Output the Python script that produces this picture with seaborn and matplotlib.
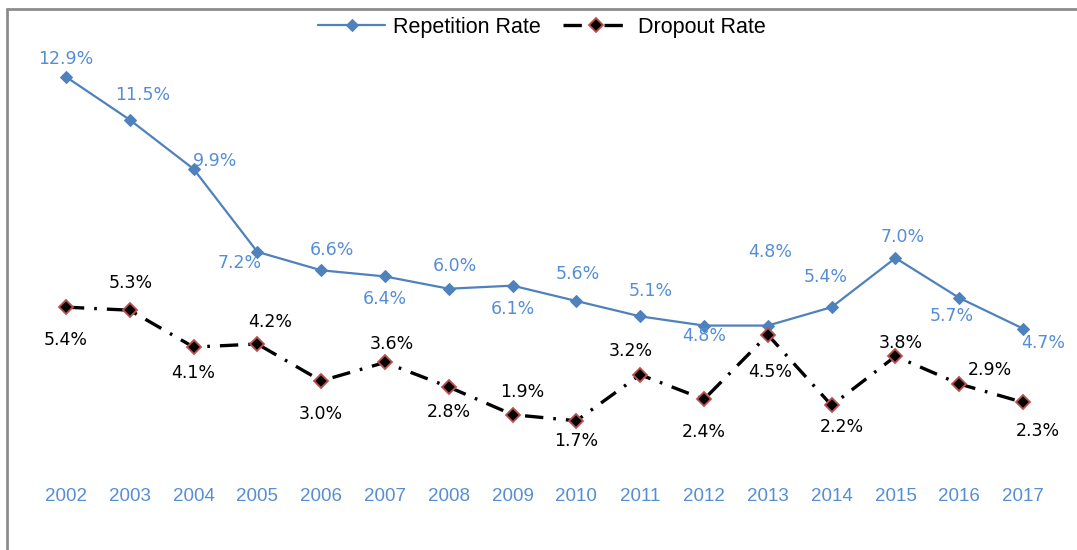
import numpy as np
import pandas as pd
import matplotlib.pyplot as plt
import seaborn as sns
from matplotlib.lines import Line2D

# Chart data
years = [2002, 2003, 2004, 2005, 2006, 2007, 2008, 2009,
         2010, 2011, 2012, 2013, 2014, 2015, 2016, 2017]
repetition_rate = [12.9, 11.5, 9.9, 7.2, 6.6, 6.4, 6.0, 6.1,
                   5.6, 5.1, 4.8, 4.8, 5.4, 7.0, 5.7, 4.7]
dropout_rate = [5.4, 5.3, 4.1, 4.2, 3.0, 3.6, 2.8, 1.9,
                1.7, 3.2, 2.4, 4.5, 2.2, 3.8, 2.9, 2.3]

# label offsets in pixels (dx, dy) relative to each point
rep_offsets = [(0, 18), (13, 25), (22, 8), (-18, -11), (11, 20), (0, -23), (6, 23), (0, -23),
               (1, 27), (11, 25), (0, -10), (2, 74), (-6, 30), (7, 21), (-8, -18), (20, -14)]
drop_offsets = [(0, -33), (1, 27), (0, -26), (13, 22), (0, -33), (7, 18), (0, -25), (10, 23),
                (0, -20), (-9, 24), (0, -33), (2, -37), (10, -22), (5, 13), (31, 14), (15, -29)]

rep_color = '#4F81BD'
rep_label_color = '#558ED5'
drop_edge = '#C0504D'

data = pd.DataFrame({'year': years, 'rep': repetition_rate, 'drop': dropout_rate})
data['pos'] = np.arange(len(years))

sns.set_theme(style='white')
plt.rcParams['font.family'] = ['DejaVu Sans']

fig = plt.figure(figsize=(10.77, 5.5), dpi=100)
ax = fig.add_axes([34 / 1077, 1 - 473 / 550, 1021 / 1077, 430 / 550])

sns.lineplot(data=data, x='pos', y='rep', ax=ax, color=rep_color, lw=1.6,
             marker='D', markersize=6.5, markeredgecolor=rep_color, label='Repetition Rate')
sns.lineplot(data=data, x='pos', y='drop', ax=ax, color='black', lw=2.4,
             linestyle=(0, (5.5, 3, 0.8, 3)), marker='D', markersize=7,
             markerfacecolor='black', markeredgecolor=drop_edge, markeredgewidth=1.3,
             label='Dropout Rate')

for i, v in enumerate(repetition_rate):
    ax.annotate(f'{v:.1f}%', (i, v), xytext=rep_offsets[i], textcoords='offset pixels',
                ha='center', va='center', fontsize=12.5, color=rep_label_color)
for i, v in enumerate(dropout_rate):
    ax.annotate(f'{v:.1f}%', (i, v), xytext=drop_offsets[i], textcoords='offset pixels',
                ha='center', va='center', fontsize=12.5, color='black')

ax.set_xlim(-0.5, len(years) - 0.5)
ax.set_ylim(0, 14)
ax.set_xticks(data['pos'])
ax.set_xticklabels([str(y) for y in years], fontsize=13.5, color=rep_label_color,
                   family=['Liberation Sans'])
ax.tick_params(axis='x', length=0, pad=11)
ax.set_yticks([])
ax.set_xlabel('')
ax.set_ylabel('')
for s in ax.spines.values():
    s.set_visible(False)

leg = ax.legend(loc='center', bbox_to_anchor=(542 / 1077, 1 - 27 / 550), bbox_transform=fig.transFigure,
                ncol=2, frameon=False, handlelength=3.1, handletextpad=0.4, columnspacing=1.0,
                prop={'family': 'Liberation Sans', 'size': 15.5})
for t in leg.get_texts():
    t.set_color('black')

# outer chart frame
fig.add_artist(Line2D([7 / 1077, 7 / 1077], [0, 1 - 9 / 550], transform=fig.transFigure,
                      color='#8c8c8c', lw=2))
fig.add_artist(Line2D([7 / 1077, 1], [1 - 9 / 550, 1 - 9 / 550], transform=fig.transFigure,
                      color='#8c8c8c', lw=2))

fig.savefig('out.png', dpi=100)
